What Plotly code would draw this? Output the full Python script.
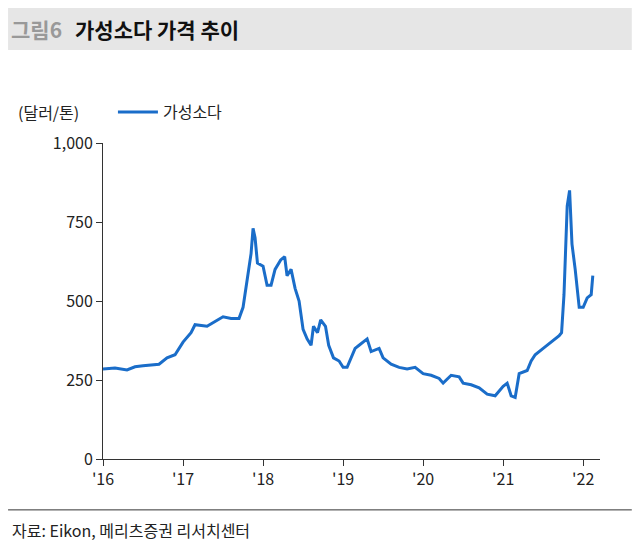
import plotly.graph_objects as go

years = [2016.0,2016.15,2016.3,2016.4,2016.5,2016.7,2016.8,2016.9,2017.0,2017.1,2017.15,2017.3,2017.4,2017.5,2017.6,2017.7,2017.75,2017.8,2017.85,2017.875,2017.9,2017.93,2018.0,2018.05,2018.1,2018.15,2018.22,2018.27,2018.3,2018.35,2018.4,2018.45,2018.5,2018.55,2018.6,2018.63,2018.68,2018.72,2018.78,2018.82,2018.88,2018.95,2019.0,2019.05,2019.1,2019.15,2019.2,2019.3,2019.35,2019.45,2019.5,2019.6,2019.7,2019.8,2019.9,2020.0,2020.1,2020.2,2020.25,2020.35,2020.45,2020.5,2020.6,2020.7,2020.8,2020.9,2021.0,2021.05,2021.1,2021.15,2021.2,2021.3,2021.35,2021.4,2021.5,2021.6,2021.7,2021.73,2021.76,2021.8,2021.83,2021.86,2021.9,2021.95,2022.0,2022.05,2022.1,2022.12]
values = [285,288,282,292,295,300,320,330,370,400,425,420,435,450,445,445,480,560,650,730,700,620,610,550,550,600,630,640,580,600,540,500,410,380,360,420,400,440,420,360,320,310,290,290,320,350,360,380,340,350,320,300,290,285,290,270,265,255,240,265,260,240,235,225,205,200,230,240,200,195,270,280,310,330,350,370,390,400,520,800,850,680,600,480,480,510,520,580]
tick_vals = [2016,2017,2018,2019,2020,2021,2022]
tick_text = ["'16","'17","'18","'19","'20","'21","'22"]

fig = go.Figure(go.Scatter(x=years, y=values, mode="lines", name="가성소다",
                           line=dict(color="#1a6dc9", width=3)))
fig.update_layout(
    width=634, height=542, plot_bgcolor="white", paper_bgcolor="white",
    margin=dict(l=95, r=42, t=135, b=91, autoexpand=False),
    font=dict(family="Noto Sans CJK KR", size=16, color="#222"),
    showlegend=True,
    legend=dict(orientation="h", x=0.02, y=1.098, xanchor="left", yanchor="middle",
                font=dict(size=16), itemwidth=40),
    xaxis=dict(range=[2016, 2022.21], tickvals=tick_vals, ticktext=tick_text, showgrid=False,
               showline=True, linecolor="#333", ticks="outside", ticklen=6, tickcolor="#333", automargin=False),
    yaxis=dict(range=[0, 1000], tickvals=[0,250,500,750,1000], ticktext=["0","250","500","750","1,000"],
               showgrid=False, showline=True, linecolor="#333", ticks="outside", ticklen=6, tickcolor="#333", automargin=False),
    shapes=[
        dict(type="rect", xref="paper", yref="paper", x0=-0.191, x1=1.064, y0=1.294, y1=1.427,
             fillcolor="#e6e6e6", line=dict(width=0), layer="below"),
        dict(type="line", xref="paper", yref="paper", x0=-0.191, x1=1.064, y0=-0.161, y1=-0.161,
             line=dict(color="#333", width=1)),
    ],
    annotations=[
        dict(text="<b>그림6</b>", xref="paper", yref="paper", x=-0.19, y=1.36, showarrow=False,
             xanchor="left", yanchor="middle", font=dict(size=21, color="#999")),
        dict(text="<b>가성소다 가격 추이</b>", xref="paper", yref="paper", x=-0.06, y=1.36, showarrow=False,
             xanchor="left", yanchor="middle", font=dict(size=21, color="#111")),
        dict(text="(달러/톤)", xref="paper", yref="paper", x=-0.175, y=1.098, showarrow=False,
             xanchor="left", yanchor="middle", font=dict(size=16)),
        dict(text="자료: Eikon, 메리츠증권 리서치센터", xref="paper", yref="paper", x=-0.188, y=-0.225, showarrow=False,
             xanchor="left", yanchor="middle", font=dict(size=16)),
    ],
)
fig.write_html("out.html")
